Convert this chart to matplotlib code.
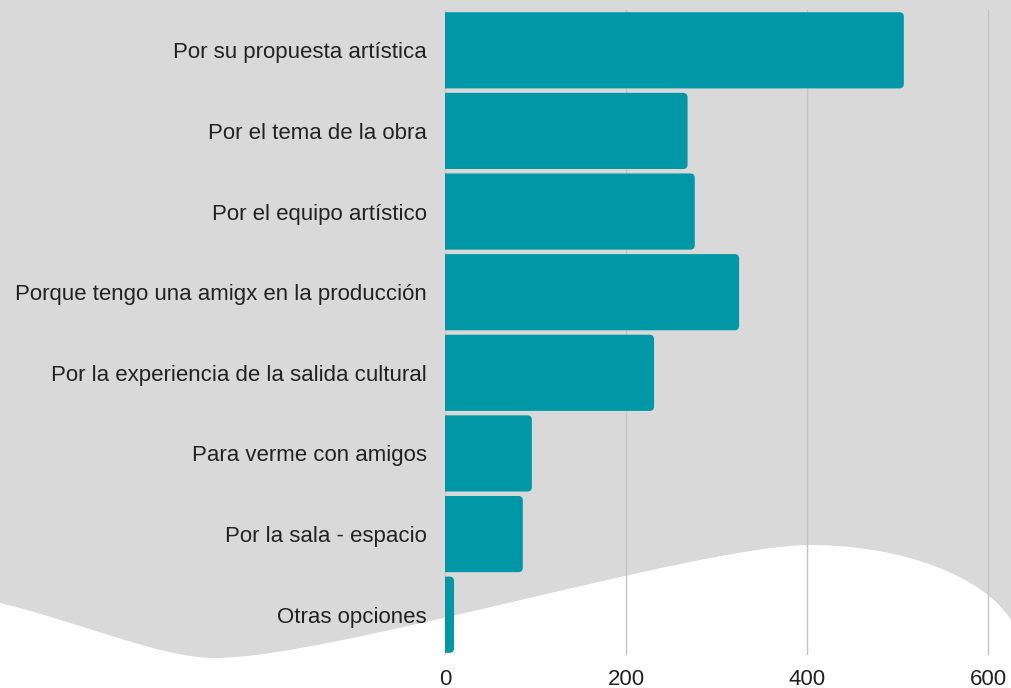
import matplotlib
matplotlib.use("Agg")
import matplotlib.pyplot as plt
from matplotlib.patches import FancyBboxPatch, PathPatch
from matplotlib.path import Path

categories = [
    "Por su propuesta artística",
    "Por el tema de la obra",
    "Por el equipo artístico",
    "Porque tengo una amigx en la producción",
    "Por la experiencia de la salida cultural",
    "Para verme con amigos",
    "Por la sala - espacio",
    "Otras opciones",
]
values = [507, 268, 276, 325, 231, 96, 86, 10]
xticks = [0, 200, 400, 600]

BG = "#d9d9d9"
BAR = "#0097a7"
TXT = "#222222"

W, H = 1011, 688
fig = plt.figure(figsize=(W / 100, H / 100), dpi=100)
fig.patch.set_facecolor(BG)

# decorative white wave in the lower part (figure pixel coords, y down)
def P(x, y):
    return (x / W, 1 - y / H)

verts = [P(0, 603),
         P(80, 622), P(160, 658), P(215, 658),
         P(330, 658), P(700, 545), P(810, 545),
         P(905, 545), P(985, 578), P(1011, 620),
         P(1011, 688), P(0, 688), P(0, 603)]
codes = [Path.MOVETO,
         Path.CURVE4, Path.CURVE4, Path.CURVE4,
         Path.CURVE4, Path.CURVE4, Path.CURVE4,
         Path.CURVE4, Path.CURVE4, Path.CURVE4,
         Path.LINETO, Path.LINETO, Path.CLOSEPOLY]
wave = PathPatch(Path(verts, codes), facecolor="white", edgecolor="none",
                 transform=fig.transFigure, zorder=-10)
fig.patches.append(wave)

left_px, right_px, top_px, bot_px = 445, 1011, 10, 655
ax = fig.add_axes([left_px / W, 1 - bot_px / H, (right_px - left_px) / W,
                   (bot_px - top_px) / H])
ax.set_zorder(5)
ax.set_facecolor("none")
xmax = (right_px - left_px) / ((988 - 445) / 600)
ax.set_xlim(0, xmax)
ax.set_ylim(len(categories) - 0.5, -0.5)

ypos = list(range(len(categories)))
bars = ax.barh(ypos, values, height=0.945, color=BAR)

# rounded corners
px_per_x = (right_px - left_px) / xmax
px_per_y = (bot_px - top_px) / len(categories)
aspect = px_per_x / px_per_y
r = 5.0
for b in bars:
    x0, y0, w, h = b.get_x(), b.get_y(), b.get_width(), b.get_height()
    b.set_visible(False)
    patch = FancyBboxPatch((x0 - 12, y0), w + 12, h,
                           boxstyle=f"round,pad=0,rounding_size={r}",
                           mutation_aspect=aspect, facecolor=BAR,
                           edgecolor="none", zorder=3)
    ax.add_patch(patch)

for s in ax.spines.values():
    s.set_visible(False)
ax.set_xticks(xticks)
ax.xaxis.grid(True, color="#c4c4c4", linewidth=1)
ax.set_axisbelow(True)
ax.set_yticks(ypos)
ax.set_yticklabels(categories)
ax.tick_params(axis="both", length=0, labelsize=16, labelcolor=TXT,
               labelfontfamily="Liberation Sans")
ax.tick_params(axis="y", pad=13)
ax.tick_params(axis="x", pad=10)

fig.savefig("out.png", dpi=100, facecolor=fig.get_facecolor())
